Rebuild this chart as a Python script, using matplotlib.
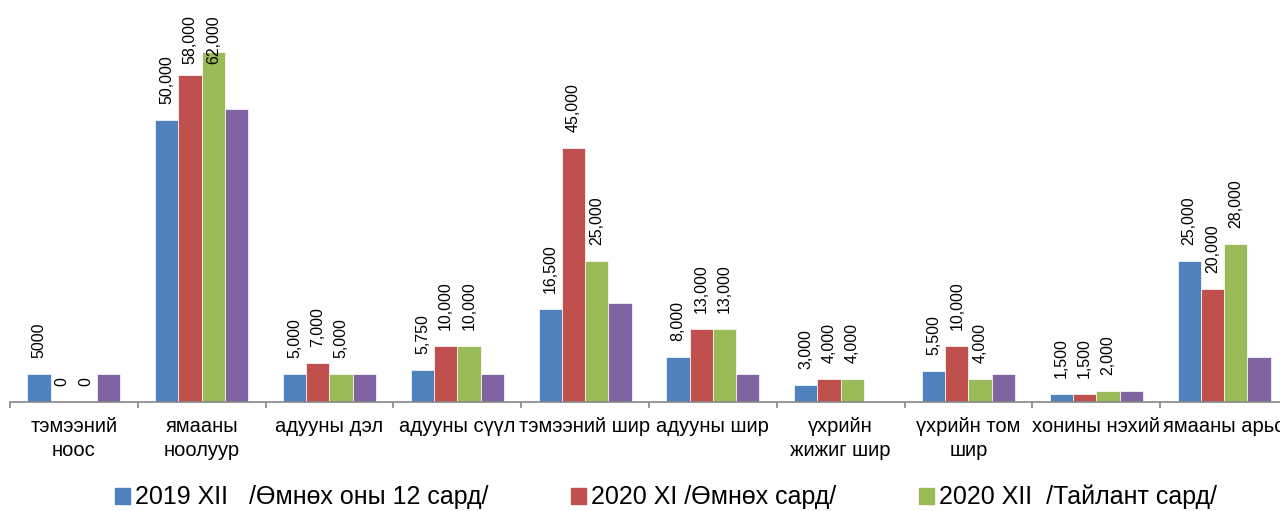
import numpy as np
import matplotlib
matplotlib.use('Agg')
import matplotlib.pyplot as plt

# data
categories = ['тэмээний\nноос', 'ямааны\nноолуур', 'адууны дэл', 'адууны сүүл',
              'тэмээний шир', 'адууны шир', 'үхрийн\nжижиг шир', 'үхрийн том\nшир',
              'хонины нэхий', 'ямааны арьс']
series_names = ['2019 XII   /Өмнөх оны 12 сард/', '2020 XI /Өмнөх сард/',
                '2020 XII  /Тайлант сард/']
v2019_12 = [5000, 50000, 5000, 5750, 16500, 8000, 3000, 5500, 1500, 25000]
v2020_11 = [0, 58000, 7000, 10000, 45000, 13000, 4000, 10000, 1500, 20000]
v2020_12 = [0, 62000, 5000, 10000, 25000, 13000, 4000, 4000, 2000, 28000]
v_purple = [5000, 52000, 5000, 5000, 17500, 5000, 0, 5000, 2000, 8000]
labels_2019_12 = ['5000'] + ['{:,}'.format(v) for v in v2019_12[1:]]

colors = ['#4F81BD', '#C0504D', '#9BBB59', '#8064A2']
font = 'Liberation Sans'

fig = plt.figure(figsize=(12.8, 5.11), dpi=100)
ax = fig.add_axes([0.0078, 0.2133, 0.9984, 0.7867])

x = np.arange(len(categories))
w = 0.182
all_series = [v2019_12, v2020_11, v2020_12, v_purple]
bar_sets = []
for i, vals in enumerate(all_series):
    bars = ax.bar(x + (i - 1.5) * w, vals, w, color=colors[i],
                  edgecolor='white', linewidth=0.5)
    bar_sets.append(bars)

label_lists = [labels_2019_12,
               ['{:,}'.format(v) for v in v2020_11],
               ['{:,}'.format(v) for v in v2020_12]]
annots = []
for bars, labs in zip(bar_sets[:3], label_lists):
    for b, lab in zip(bars, labs):
        t = ax.annotate(lab, (b.get_x() + b.get_width() / 2, b.get_height()),
                        xytext=(0, 11.5), textcoords='offset points',
                        rotation=90, ha='center', va='bottom',
                        fontsize=11.5, family=font)
        annots.append(t)

ax.set_xlim(-0.5, len(categories) - 0.5)
ax.set_ylim(0, 71300)
ax.set_yticks([])
for s in ['left', 'top', 'right']:
    ax.spines[s].set_visible(False)
ax.spines['bottom'].set_color('#868686')
ax.spines['bottom'].set_linewidth(1.2)
ax.set_xticks(x)
ax.set_xticklabels(categories, fontsize=14.5, family=font, linespacing=1.3)
ax.tick_params(axis='x', which='major', length=0, pad=11)
ax.set_xticks(np.arange(len(categories) + 1) - 0.5, minor=True)
ax.tick_params(axis='x', which='minor', length=4.5, width=1.2, color='#868686')

handles = [plt.Rectangle((0, 0), 1, 1, color=c) for c in colors[:3]]
fig.legend(handles, series_names, loc='center left', bbox_to_anchor=(0.0898, 0.027),
           ncol=3, frameon=False, borderpad=0, borderaxespad=0,
           handlelength=0.6, handleheight=0.6, handletextpad=0.2,
           columnspacing=3.3, prop={'family': font, 'size': 18})

# keep labels inside the top of the figure, like the original
fig.canvas.draw()
renderer = fig.canvas.get_renderer()
H = fig.bbox.height
for t in annots:
    bb = t.get_window_extent(renderer)
    if bb.y1 > H - 15:
        dy = (bb.y1 - (H - 15)) * 72.0 / fig.dpi
        ox, oy = t.xyann
        t.xyann = (ox, oy - dy)

fig.savefig('out.png', dpi=100)
